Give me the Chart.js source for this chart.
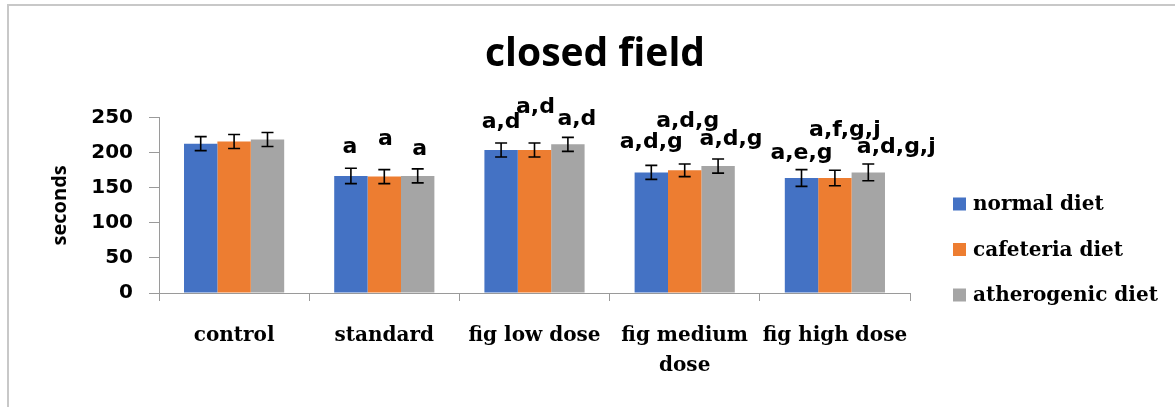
<!DOCTYPE html>
<html>
<head>
<meta charset="utf-8">
<script src="https://cdn.jsdelivr.net/npm/chart.js@4.4.1/dist/chart.umd.min.js"></script>
<style>
  html, body { margin: 0; padding: 0; background: #fff; }
  #wrap { width: 1175px; height: 407px; }
</style>
</head>
<body>
<div id="wrap"><canvas id="c" width="1175" height="407"></canvas></div>
<script>
// ---- data ----
const categories = ['control', 'standard', 'fig low dose', ['fig medium', 'dose'], 'fig high dose'];
const seriesNames = ['normal diet', 'cafeteria diet', 'atherogenic diet'];

const normalDiet      = [213, 167, 204, 172, 164];
const cafeteriaDiet   = [216, 166, 204, 175, 164];
const atherogenicDiet = [219, 167, 212, 181, 172];

const normalErr      = [10, 11, 10, 10, 12];
const cafeteriaErr   = [10, 10, 10, 9, 11];
const atherogenicErr = [10, 10, 10, 10, 12];

// significance letters above each bar
const normalSig      = ['', 'a', 'a,d', 'a,d,g', 'a,e,g'];
const cafeteriaSig   = ['', 'a', 'a,d', 'a,d,g', 'a,f,g,j'];
const atherogenicSig = ['', 'a', 'a,d', 'a,d,g', 'a,d,g,j'];

const yTickValues = [0, 50, 100, 150, 200, 250];

// ---- layout of the letter annotations: [dx, dy] in px from the error-bar top ----
const sigShift = [
  [[0, 0], [-1, -15], [0, -15], [0, -17], [0, -11]],
  [[0, 0], [1, -25], [1, -30], [3, -37], [10, -34]],
  [[0, 0], [2, -14], [9, -12], [13, -14], [28, -11]]
];

const colors = ['#4472C4', '#ED7D31', '#A5A5A5'];
const axisGray = '#9a9a9a';

// white page with the thin frame on the top and left
const framePlugin = {
  id: 'frame',
  beforeDraw(chart) {
    const ctx = chart.ctx;
    ctx.save();
    ctx.fillStyle = '#fff';
    ctx.fillRect(0, 0, chart.width, chart.height);
    ctx.strokeStyle = '#c8c8c8';
    ctx.lineWidth = 2;
    ctx.beginPath();
    ctx.moveTo(8, chart.height);
    ctx.lineTo(8, 5);
    ctx.lineTo(chart.width, 5);
    ctx.stroke();
    ctx.restore();
  }
};

// mean ± SE whiskers
const errorBarPlugin = {
  id: 'errorBars',
  afterDatasetsDraw(chart) {
    const ctx = chart.ctx;
    const y = chart.scales.y;
    ctx.save();
    ctx.strokeStyle = '#000';
    ctx.lineWidth = 1.6;
    chart.data.datasets.forEach((ds, i) => {
      const meta = chart.getDatasetMeta(i);
      meta.data.forEach((bar, j) => {
        const v = ds.data[j], e = ds.errors[j];
        const top = y.getPixelForValue(v + e);
        const bot = y.getPixelForValue(v - e);
        const cx = bar.x, half = 6;
        ctx.beginPath();
        ctx.moveTo(cx, top); ctx.lineTo(cx, bot);
        ctx.moveTo(cx - half, top); ctx.lineTo(cx + half, top);
        ctx.moveTo(cx - half, bot); ctx.lineTo(cx + half, bot);
        ctx.stroke();
      });
    });
    ctx.restore();
  }
};

// letters over the bars
const sigPlugin = {
  id: 'sigLetters',
  afterDatasetsDraw(chart) {
    const ctx = chart.ctx;
    const y = chart.scales.y;
    ctx.save();
    ctx.font = 'bold 22px "DejaVu Sans"';
    ctx.fillStyle = '#000';
    ctx.textAlign = 'center';
    ctx.textBaseline = 'alphabetic';
    chart.data.datasets.forEach((ds, i) => {
      const meta = chart.getDatasetMeta(i);
      meta.data.forEach((bar, j) => {
        const txt = ds.sig[j];
        if (!txt) return;
        const top = y.getPixelForValue(ds.data[j] + ds.errors[j]);
        const [dx, dy] = sigShift[i][j];
        ctx.fillText(txt, bar.x + dx, top + dy);
      });
    });
    ctx.restore();
  }
};

// legend column to the right of the plot
const legendPlugin = {
  id: 'sideLegend',
  afterDraw(chart) {
    const ctx = chart.ctx;
    const x0 = chart.chartArea.right + 43;
    const rows = [204, 249.5, 295];
    ctx.save();
    ctx.font = 'bold 20px "DejaVu Serif"';
    ctx.textAlign = 'left';
    ctx.textBaseline = 'middle';
    chart.data.datasets.forEach((ds, i) => {
      const cy = rows[i];
      ctx.fillStyle = ds.backgroundColor;
      ctx.fillRect(x0, cy - 6.5, 13, 13);
      ctx.fillStyle = '#000';
      ctx.fillText(ds.label, x0 + 20, cy + 1);
    });
    ctx.restore();
  }
};

const seriesValues = [normalDiet, cafeteriaDiet, atherogenicDiet];
const seriesErrors = [normalErr, cafeteriaErr, atherogenicErr];
const seriesSig = [normalSig, cafeteriaSig, atherogenicSig];

new Chart(document.getElementById('c'), {
  type: 'bar',
  data: {
    labels: categories,
    datasets: seriesNames.map((name, i) => ({
      label: name,
      data: seriesValues[i],
      errors: seriesErrors[i],
      sig: seriesSig[i],
      backgroundColor: colors[i],
      borderWidth: 0,
      categoryPercentage: 0.667,
      barPercentage: 1.0
    }))
  },
  options: {
    responsive: false,
    animation: false,
    devicePixelRatio: 1,
    layout: { padding: { left: 15, right: 0, top: 0, bottom: 0 } },
    plugins: {
      legend: { display: false },
      tooltip: { enabled: false },
      title: {
        display: true,
        text: 'closed field',
        color: '#000',
        font: { family: "'Open Sans'", size: 39, weight: 'bold', lineHeight: 1.2 },
        padding: { top: 31.6, bottom: 39.3 }
      }
    },
    scales: {
      x: {
        grid: { drawOnChartArea: false, offset: true, tickLength: 8, color: axisGray },
        border: { color: axisGray, width: 1 },
        ticks: {
          color: '#000',
          padding: 20,
          maxRotation: 0,
          autoSkip: false,
          font: { family: "'DejaVu Serif'", size: 20, weight: 'bold', lineHeight: 1.5 }
        },
        afterFit(s) { s.height = 114; }
      },
      y: {
        min: 0,
        max: 250,
        afterBuildTicks(s) { s.ticks = yTickValues.map(v => ({ value: v })); },
        grid: { drawOnChartArea: false, tickLength: 10, color: axisGray },
        border: { color: axisGray, width: 1 },
        ticks: {
          color: '#000',
          padding: 16,
          font: { family: "'DejaVu Sans'", size: 20, weight: 'bold' }
        },
        title: {
          display: true,
          text: 'seconds',
          color: '#000',
          font: { family: "'Open Sans'", size: 20, weight: 'bold', lineHeight: 1.2 },
          padding: { top: 33, bottom: 0 }
        },
        afterFit(s) { s.width = 144; }
      },
      legendSpace: {
        position: 'right',
        display: true,
        grid: { display: false },
        border: { display: false },
        ticks: { display: false },
        afterFit(s) { s.width = 265; }
      }
    }
  },
  plugins: [framePlugin, errorBarPlugin, sigPlugin, legendPlugin]
});
</script>
</body>
</html>
